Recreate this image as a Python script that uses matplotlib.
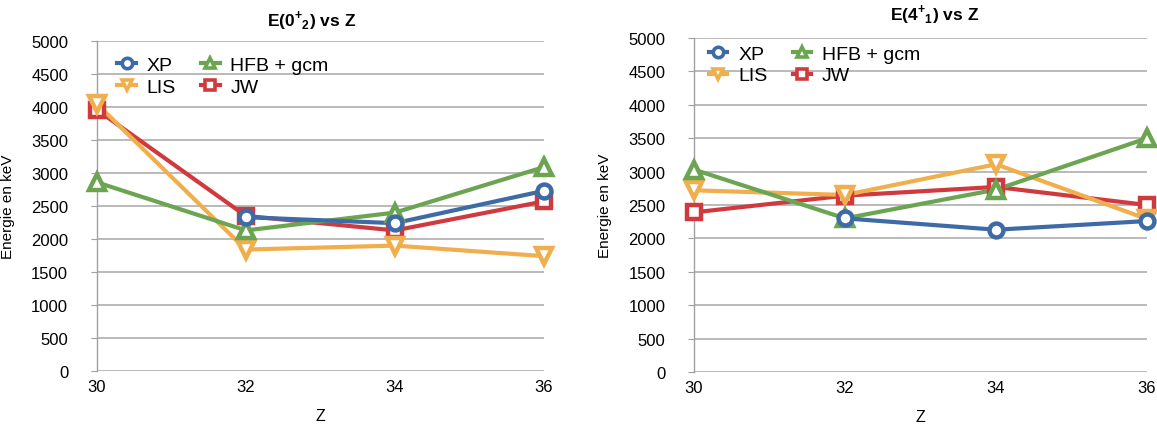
import matplotlib
matplotlib.use("Agg")
import matplotlib.pyplot as plt
from matplotlib.lines import Line2D

plt.rcParams['font.family'] = ['Liberation Sans', 'DejaVu Sans']
plt.rcParams['mathtext.fontset'] = 'custom'
plt.rcParams['mathtext.rm'] = 'Liberation Sans'
plt.rcParams['mathtext.bf'] = 'Liberation Sans:bold'

# ---- data ----
z_values = [30, 32, 34, 36]
z_labels = ["30", "32", "34", "36"]

# E(0+2) panel
e02_xp = [None, 2330, 2240, 2730]
e02_lis = [4050, 1840, 1900, 1740]
e02_hfb = [2860, 2130, 2400, 3090]
e02_jw = [3960, 2350, 2130, 2570]

# E(4+1) panel
e41_xp = [None, 2300, 2130, 2260]
e41_lis = [2720, 2650, 3110, 2290]
e41_hfb = [3030, 2300, 2730, 3500]
e41_jw = [2390, 2640, 2770, 2500]

series_names = ["XP", "LIS", "HFB + gcm", "JW"]
colors = {"XP": "#3E6AA6", "LIS": "#F0AE4C", "HFB + gcm": "#6BA552", "JW": "#D03A3E"}
markers = {"XP": "o", "LIS": "v", "HFB + gcm": "^", "JW": "s"}
msizes = {"XP": 10, "LIS": 11, "HFB + gcm": 11, "JW": 10.5}

W, H = 1157, 427
fig = plt.figure(figsize=(W / 100, H / 100), dpi=100)


def px_axes(x0, x1, ytop, ybot):
    return fig.add_axes([x0 / W, 1 - ybot / H, (x1 - x0) / W, (ybot - ytop) / H])


ax1 = px_axes(96.7, 544, 42, 372)
ax2 = px_axes(694, 1147, 39, 373)

panels = [
    (ax1, {"XP": e02_xp, "LIS": e02_lis, "HFB + gcm": e02_hfb, "JW": e02_jw}),
    (ax2, {"XP": e41_xp, "LIS": e41_lis, "HFB + gcm": e41_hfb, "JW": e41_jw}),
]

draw_order = ["JW", "LIS", "HFB + gcm", "XP"]

for ax, data in panels:
    for i, name in enumerate(draw_order):
        vals = data[name]
        xs = [x for x, v in zip(z_values, vals) if v is not None]
        ys = [v for v in vals if v is not None]
        ax.plot(xs, ys, color=colors[name], lw=3.0, zorder=3, solid_capstyle='butt')
    for i, name in enumerate(draw_order):
        vals = data[name]
        xs = [x for x, v in zip(z_values, vals) if v is not None]
        ys = [v for v in vals if v is not None]
        ax.plot(xs, ys, ls='none', marker=markers[name], ms=msizes[name],
                mfc='white', mec=colors[name], mew=3.2, zorder=4 + i,
                clip_on=False)
    ax.set_xlim(30, 36)
    ax.set_ylim(0, 5000)
    ax.set_xticks(z_values)
    ax.set_xticklabels(z_labels)
    ax.set_yticks(range(0, 5001, 500))
    ax.grid(axis='y', color='#B4B4B4', lw=1.3, zorder=0)
    ax.set_axisbelow(True)
    for s in ['top', 'right', 'bottom']:
        ax.spines[s].set_visible(False)
    ax.spines['left'].set_color('#A0A0A0')
    ax.spines['left'].set_linewidth(1.0)
    ax.tick_params(axis='y', length=4, color='#A0A0A0', labelsize=12, pad=16.5)
    ax.tick_params(axis='x', length=0, labelsize=12, pad=6)
    ax.set_ylabel("Energie en keV", fontsize=11)
    ax.set_xlabel("Z", fontsize=11.5)
    ax.xaxis.set_label_coords(0.5, -0.112)
    ax.yaxis.set_label_coords(-0.182, 0.5)

handles = [Line2D([0], [0], color=colors[n], lw=3, marker=markers[n], ms=7.5,
                  mfc='white', mec=colors[n], mew=2.6) for n in series_names]

leg_kw = dict(ncol=2, frameon=False, fontsize=14, loc='upper left',
              handlelength=0.95, handletextpad=0.55, columnspacing=1.3,
              labelspacing=0.22, borderaxespad=0.3)
ax1.legend(handles, series_names, bbox_to_anchor=(0.016, 0.995), **leg_kw)
ax2.legend(handles, series_names, bbox_to_anchor=(0.003, 1.02), **leg_kw)

fig.text(311.5 / W, 1 - 21 / H, r"E(0$^{\mathbf{+}}$$_{\mathbf{2}}$) vs Z",
         ha='center', va='center', fontsize=12.5, fontweight='bold')
fig.text(935 / W, 1 - 15 / H, r"E(4$^{\mathbf{+}}$$_{\mathbf{1}}$) vs Z",
         ha='center', va='center', fontsize=12.5, fontweight='bold')

fig.savefig("out.png", dpi=100)
